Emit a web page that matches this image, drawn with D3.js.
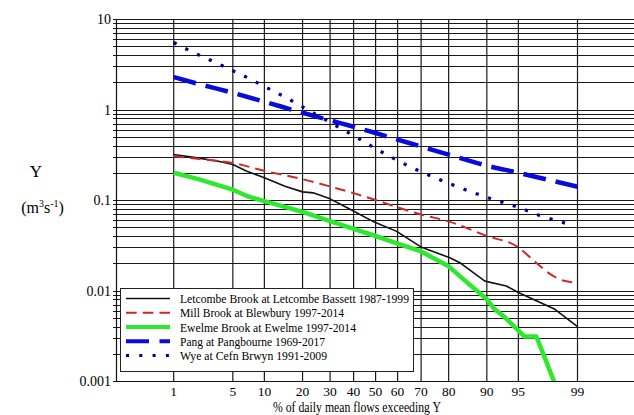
<!DOCTYPE html>
<html><head><meta charset="utf-8"><script src="https://cdn.jsdelivr.net/npm/d3@7"></script></head>
<body style="margin:0">
<svg id="chart" width="634" height="415"></svg>
<script>
// ---- data (percent of time exceeded, flow m3/s) ----
const xTicks = [1, 5, 10, 20, 30, 40, 50, 60, 70, 80, 90, 95, 99];
const yTickLabels = ["0.001", "0.01", "0.1", "1", "10"];
const yTicks = [0.001, 0.01, 0.1, 1, 10];

const letcombe = [[1,0.318],[2,0.292],[3.5,0.268],[5,0.247],[6.9,0.208],[10,0.176],[14.8,0.142],[20,0.123],[23.6,0.120],[30,0.103],[37.6,0.081],[49.4,0.057],[59.6,0.045],[70.2,0.030],[80.4,0.023],[83.4,0.0203],[89.6,0.0127],[93.4,0.0112],[95,0.0095],[96.8,0.0077],[98.06,0.0062],[99,0.0040]];
const mill = [[1,0.305],[2,0.285],[5,0.257],[10,0.21],[20,0.17],[30,0.141],[40,0.119],[50,0.100],[60,0.083],[70,0.069],[80,0.058],[90,0.040],[95,0.030],[96.5,0.0218],[97.96,0.0145],[98.5,0.0128],[99,0.0122]];
const ewelme = [[1,0.20],[2,0.171],[5,0.13],[7,0.110],[10,0.097],[20,0.074],[30,0.0585],[40,0.048],[50,0.040],[60,0.033],[70,0.027],[80,0.0185],[85,0.0127],[90,0.0080],[91.5,0.0062],[93,0.0052],[95.7,0.0031],[96.8,0.0031],[97.5,0.0017],[98,0.001],[98.3,0.0008]];
const pang = [[1,2.28],[2,1.93],[5,1.53],[10,1.22],[20,0.92],[30,0.76],[40,0.645],[50,0.55],[60,0.465],[70,0.39],[80,0.317],[90,0.24],[95,0.20],[99,0.14]];
const wye = [[1,5.5],[2,4.07],[3,3.43],[5,2.68],[7,2.25],[10,1.80],[15,1.36],[20,1.07],[30,0.72],[40,0.515],[50,0.37],[60,0.273],[70,0.205],[80,0.153],[90,0.107],[95,0.083],[97,0.068],[98.6,0.055]];

const seriesNames = ["Letcombe Brook at Letcombe Bassett 1987-1999","Mill Brook at Blewbury 1997-2014","Ewelme Brook at Ewelme 1997-2014","Pang at Pangbourne 1969-2017","Wye at Cefn Brwyn 1991-2009"];

// ---- normal probability scale ----
function probit(p) {
  const a=[-39.69683028665376,220.9460984245205,-275.9285104469687,138.3577518672690,-30.66479806614716,2.506628277459239];
  const b=[-54.47609879822406,161.5858368580409,-155.6989798598866,66.80131188771542,-13.28068155288572];
  const c=[-7.784894002430293e-03,-0.3223964580411365,-2.400758277161838,-2.549732539343734,4.374664141464968,2.938163982698783];
  const d=[7.784695709041462e-03,0.3224671290700398,2.445134137142996,3.754408661907416];
  const pl=0.02425;
  let q, r;
  if (p < pl) {
    q = Math.sqrt(-2*Math.log(p));
    return (((((c[0]*q+c[1])*q+c[2])*q+c[3])*q+c[4])*q+c[5])/((((d[0]*q+d[1])*q+d[2])*q+d[3])*q+1);
  } else if (p <= 1-pl) {
    q = p-0.5; r = q*q;
    return (((((a[0]*r+a[1])*r+a[2])*r+a[3])*r+a[4])*r+a[5])*q/(((((b[0]*r+b[1])*r+b[2])*r+b[3])*r+b[4])*r+1);
  } else {
    q = Math.sqrt(-2*Math.log(1-p));
    return -(((((c[0]*q+c[1])*q+c[2])*q+c[3])*q+c[4])*q+c[5])/((((d[0]*q+d[1])*q+d[2])*q+d[3])*q+1);
  }
}

const L = 116, T = 19, R = 634, B = 381;
const zScale = d3.scaleLinear().domain([probit(0.01), probit(0.99)]).range([173.7, 577.5]);
const x = p => zScale(probit(p/100));
const y = d3.scaleLog().domain([0.001, 10]).range([B, T]);

const svg = d3.select("#chart");

// horizontal grid (log minor)
const hLines = [];
for (let e = -3; e < 1; e++) for (let m = 1; m < 10; m++) hLines.push(m*Math.pow(10,e));
hLines.push(10);
hLines.forEach(v => {
  svg.append("line").attr("x1", L-3).attr("x2", R).attr("y1", Math.round(y(v))+0.5).attr("y2", Math.round(y(v))+0.5)
    .attr("stroke", "#1a1a1a").attr("stroke-width", 1);
});
// vertical grid
xTicks.forEach(v => {
  svg.append("line").attr("x1", x(v)).attr("x2", x(v)).attr("y1", T).attr("y2", B)
    .attr("stroke", "#1a1a1a").attr("stroke-width", 1.2);
});
// frame left + bottom
svg.append("line").attr("x1",L+0.5).attr("x2",L+0.5).attr("y1",T).attr("y2",B+0.5).attr("stroke","#111").attr("stroke-width",1.2);
svg.append("line").attr("x1",L).attr("x2",R).attr("y1",B+0.5).attr("y2",B+0.5).attr("stroke","#111").attr("stroke-width",1.2);

function txt(size) {
  return svg.append("text").attr("font-family", "Liberation Serif")
    .style("font-family", `"Liberation Serif"`).style("font-size", size + "px");
}

// y tick labels
yTicks.forEach((v,i) => {
  txt(14).attr("x", 111).attr("y", y(v)+5).attr("text-anchor","end").text(yTickLabels[i]);
});
// x tick labels
xTicks.forEach(v => {
  txt(13.5).attr("x", x(v)).attr("y", 396).attr("text-anchor","middle").text(v);
});

// axis titles
txt(14).attr("x", 357).attr("y", 411.5).attr("text-anchor","middle")
  .attr("textLength", 168).attr("lengthAdjust", "spacingAndGlyphs")
  .text("% of daily mean flows exceeding Y");
txt(17).attr("x", 36).attr("y", 176.5).attr("text-anchor","middle").text("Y");
const unit = txt(16).attr("x", 42.5).attr("y", 213).attr("text-anchor","middle");
unit.append("tspan").text("(m");
unit.append("tspan").attr("dy",-6).style("font-size","10px").text("3");
unit.append("tspan").attr("dy",6).text("s");
unit.append("tspan").attr("dy",-6).style("font-size","10px").text("-1");
unit.append("tspan").attr("dy",6).text(")");

// series
const styles = [
  {data: letcombe, color:"#111111", width:1.6, dash:null, curve:d3.curveLinear},
  {data: mill, color:"#cc2a2a", width:2, dash:"10.5,6", curve:d3.curveMonotoneX},
  {data: ewelme, color:"#2ee82e", width:4.5, dash:null, curve:d3.curveLinear},
  {data: pang, color:"#0a0adc", width:4.5, dash:"23,10", curve:d3.curveMonotoneX},
  {data: wye, color:"#00008e", width:3.2, dash:"3.2,9.8", curve:d3.curveMonotoneX}
];
svg.append("defs").append("clipPath").attr("id","clip")
  .append("rect").attr("x",L).attr("y",T).attr("width",R-L).attr("height",B-T);
const plot = svg.append("g").attr("clip-path","url(#clip)");
styles.forEach(s => {
  const line = d3.line().x(d=>x(d[0])).y(d=>y(d[1])).curve(s.curve);
  plot.append("path").attr("d", line(s.data)).attr("fill","none")
    .attr("stroke", s.color).attr("stroke-width", s.width)
    .attr("stroke-dasharray", s.dash).attr("stroke-linejoin","round");
});

// legend
const legendWidths = [229, 164, 176, 145, 147];
svg.append("rect").attr("x",120.5).attr("y",288.5).attr("width",293).attr("height",83)
  .attr("fill","#fff").attr("stroke","#222").attr("stroke-width",1);
styles.forEach((s,i) => {
  const cy = 298.5 + i*14.25;
  svg.append("line").attr("x1",126).attr("x2",170).attr("y1",cy).attr("y2",cy)
    .attr("stroke",s.color).attr("stroke-width",Math.min(s.width,4))
    .attr("stroke-dasharray", s.dash ? (i===1?"10.7,6":(i===3?"23,10.5":"3,10.3")) : null);
  txt(13).attr("x",180).attr("y",cy+4.5)
    .attr("textLength", legendWidths[i]).attr("lengthAdjust", "spacingAndGlyphs")
    .text(seriesNames[i]);
});
</script>
</body>
</html>
